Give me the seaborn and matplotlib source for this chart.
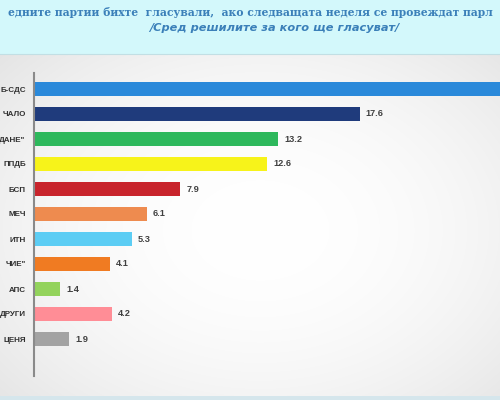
import numpy as np
import pandas as pd
import seaborn as sns
import matplotlib.pyplot as plt
from matplotlib.patches import Rectangle

# data (the screenshot is cropped, so labels are the visible parts)
PARTIES = ['Б-СДС', 'ЧАЛО', 'ДАНЕ"', 'ППДБ', 'БСП', 'МЕЧ',
           'ИТН', 'ЧИЕ"', 'АПС', 'ДРУГИ', 'ЦЕНЯ']
VALUES = [26.0, 17.6, 13.2, 12.6, 7.9, 6.1, 5.3, 4.1, 1.4, 4.2, 1.9]
LABELS = ['', '17.6', '13.2', '12.6', '7.9', '6.1', '5.3', '4.1', '1.4', '4.2', '1.9']
COLORS = ['#2a89da', '#1f3b7c', '#2db85c', '#f7f31a', '#c8242c', '#ee8b4f',
          '#5ccdf4', '#f07b22', '#93d35c', '#ff8d96', '#a3a3a3']

TITLE1 = 'едните партии бихте  гласували,  ако следващата неделя се провеждат парл'
TITLE2 = '/Сред решилите за кого ще гласуват/'

W, H = 500, 400
fig = plt.figure(figsize=(5, 4), dpi=100)

# background: soft radial gradient + cyan header band
bg = fig.add_axes([0, 0, 1, 1])
yy, xx = np.mgrid[0:H, 0:W]
d = np.sqrt(((xx - 260) / 330.0) ** 2 + ((yy - 230) / 240.0) ** 2)
shade = 1.0 - 0.09 * np.clip(d, 0, 1.2) ** 2
bg.imshow(np.dstack([shade] * 3), extent=[0, W, H, 0], aspect='auto')
bg.add_patch(Rectangle((0, 0), W, 54, color='#d3f8fb', lw=0))
bg.plot([0, W], [54, 54], color='#c2dfe4', lw=0.8)
bg.add_patch(Rectangle((0, 396), W, 4, color='#d5e6ec', lw=0))
bg.set_xlim(0, W)
bg.set_ylim(H, 0)
bg.axis('off')

fig.text(250 / W, 1 - 13 / H, TITLE1, ha='center', va='center', fontsize=7.75,
         fontweight='bold', color='#3b80b9', family='DejaVu Serif')
fig.text(274 / W, 1 - 28 / H, TITLE2, ha='center', va='center', fontsize=8.2,
         fontweight='bold', style='italic', color='#3b80b9', family='DejaVu Sans')

# bar chart axes: axis line at x=34, from y=73 to y=376
ax = fig.add_axes([34 / W, 1 - 376 / H, (W - 34) / W, (376 - 73) / H])
ax.patch.set_alpha(0)
df = pd.DataFrame({'party': PARTIES, 'value': VALUES})
sns.barplot(data=df, x='value', y='party', hue='party', palette=COLORS,
            saturation=1, orient='h', width=0.58, legend=False, ax=ax)
ax.set_xlim(0, (W - 34) / 18.5)
ax.set_ylim(11.48, -0.64)
for i, (v, lab) in enumerate(zip(VALUES, LABELS)):
    ax.text(v + 0.33, i, lab, va='center', ha='left', fontsize=6.6,
            fontweight='bold', color='#404040', family='Liberation Sans')
for s in ['top', 'right', 'bottom']:
    ax.spines[s].set_visible(False)
ax.spines['left'].set_color('#8a8a8a')
ax.spines['left'].set_linewidth(1.5)
ax.set_xticks([])
ax.tick_params(axis='y', length=0, pad=6)
for t in ax.get_yticklabels():
    t.set_fontsize(5.8)
    t.set_fontweight('bold')
    t.set_family('Liberation Sans')
    t.set_color('#303030')
ax.set_xlabel('')
ax.set_ylabel('')

fig.savefig('out.png', dpi=100)
